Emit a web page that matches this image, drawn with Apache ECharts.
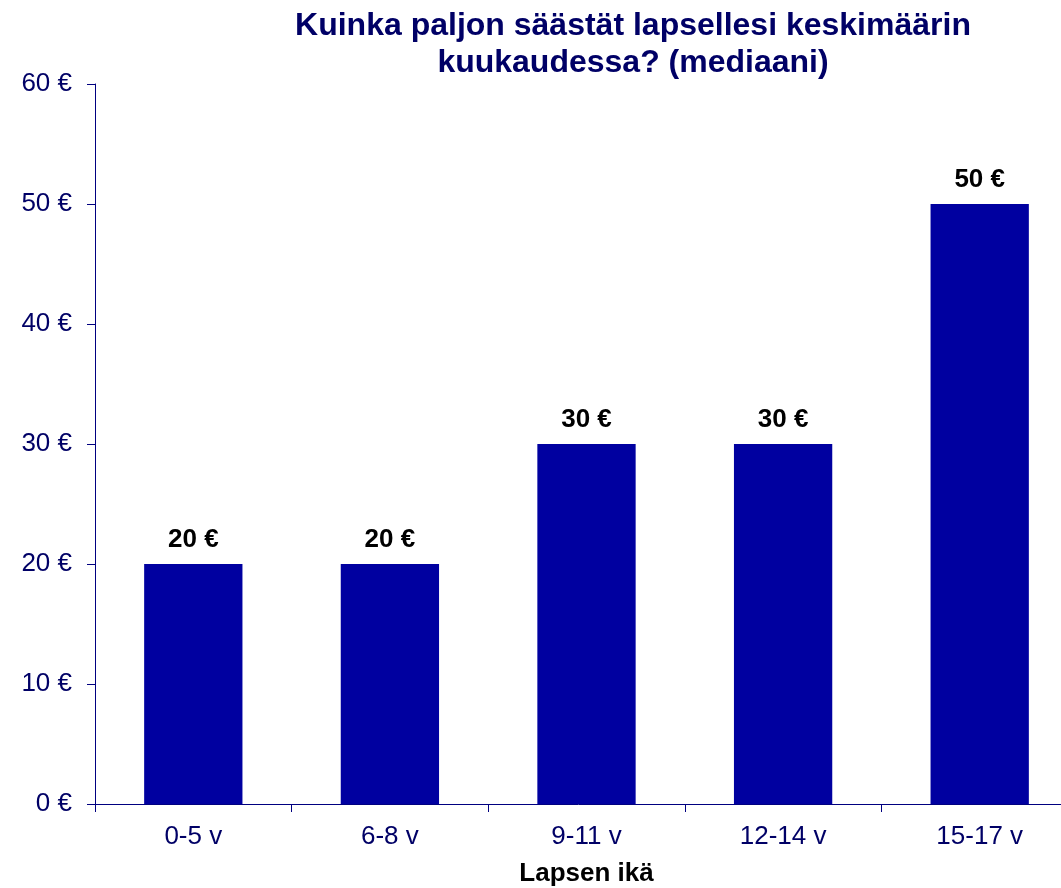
<!DOCTYPE html>
<html>
<head>
<meta charset="utf-8">
<script src="https://cdn.jsdelivr.net/npm/echarts@6/dist/echarts.min.js"></script>
<style>
  html, body { margin: 0; padding: 0; background: #fff; }
  #chart { width: 1061px; height: 888px; }
</style>
</head>
<body>
<div id="chart"></div>
<script>
// Lapsen ikäryhmät ja säästösummat (mediaani, €)
const ageGroups = ['0-5 v', '6-8 v', '9-11 v', '12-14 v', '15-17 v'];
const savings = [20, 20, 30, 30, 50];
const yTicks = [0, 10, 20, 30, 40, 50, 60];

const navy = '#000066';
const font = '"Liberation Sans", Arial, sans-serif';

const chart = echarts.init(document.getElementById('chart'));

const option = {
    animation: false,
    title: {
        text: 'Kuinka paljon säästät lapsellesi keskimäärin\nkuukaudessa? (mediaani)',
        left: 628,
        top: 3,
        textAlign: 'center',
        textStyle: {
            color: navy,
            fontFamily: font,
            fontWeight: 'bold',
            fontSize: 32,
            lineHeight: 37
        }
    },
    grid: {
        left: 95,
        right: -17,
        top: 84,
        bottom: 84,
        outerBoundsMode: 'none'
    },
    xAxis: {
        type: 'category',
        data: ageGroups,
        name: 'Lapsen ikä',
        nameLocation: 'middle',
        nameGap: 57,
        nameTextStyle: {
            color: '#000000',
            fontFamily: font,
            fontWeight: 'bold',
            fontSize: 26
        },
        axisLine: { lineStyle: { color: '#000080', width: 1 } },
        axisTick: { show: true, length: 8, alignWithLabel: false, lineStyle: { color: '#000080' } },
        axisLabel: {
            color: navy,
            fontFamily: font,
            fontSize: 26,
            margin: 20
        }
    },
    yAxis: {
        type: 'value',
        min: yTicks[0],
        max: yTicks[yTicks.length - 1],
        interval: 10,
        axisLine: { show: true, lineStyle: { color: '#000080', width: 1 } },
        axisTick: { show: true, length: 8, lineStyle: { color: '#000080' } },
        splitLine: { show: false },
        axisLabel: {
            color: navy,
            fontFamily: font,
            fontSize: 26,
            margin: 23,
            formatter: v => v + ' €'
        }
    },
    series: [
        {
            type: 'bar',
            data: savings,
            barWidth: '50%',
            itemStyle: { color: '#0000A0' },
            label: {
                show: true,
                position: 'top',
                distance: 11,
                color: '#000000',
                fontFamily: font,
                fontWeight: 'bold',
                fontSize: 26,
                formatter: p => p.value + ' €'
            }
        }
    ]
};

chart.setOption(option);
</script>
</body>
</html>
